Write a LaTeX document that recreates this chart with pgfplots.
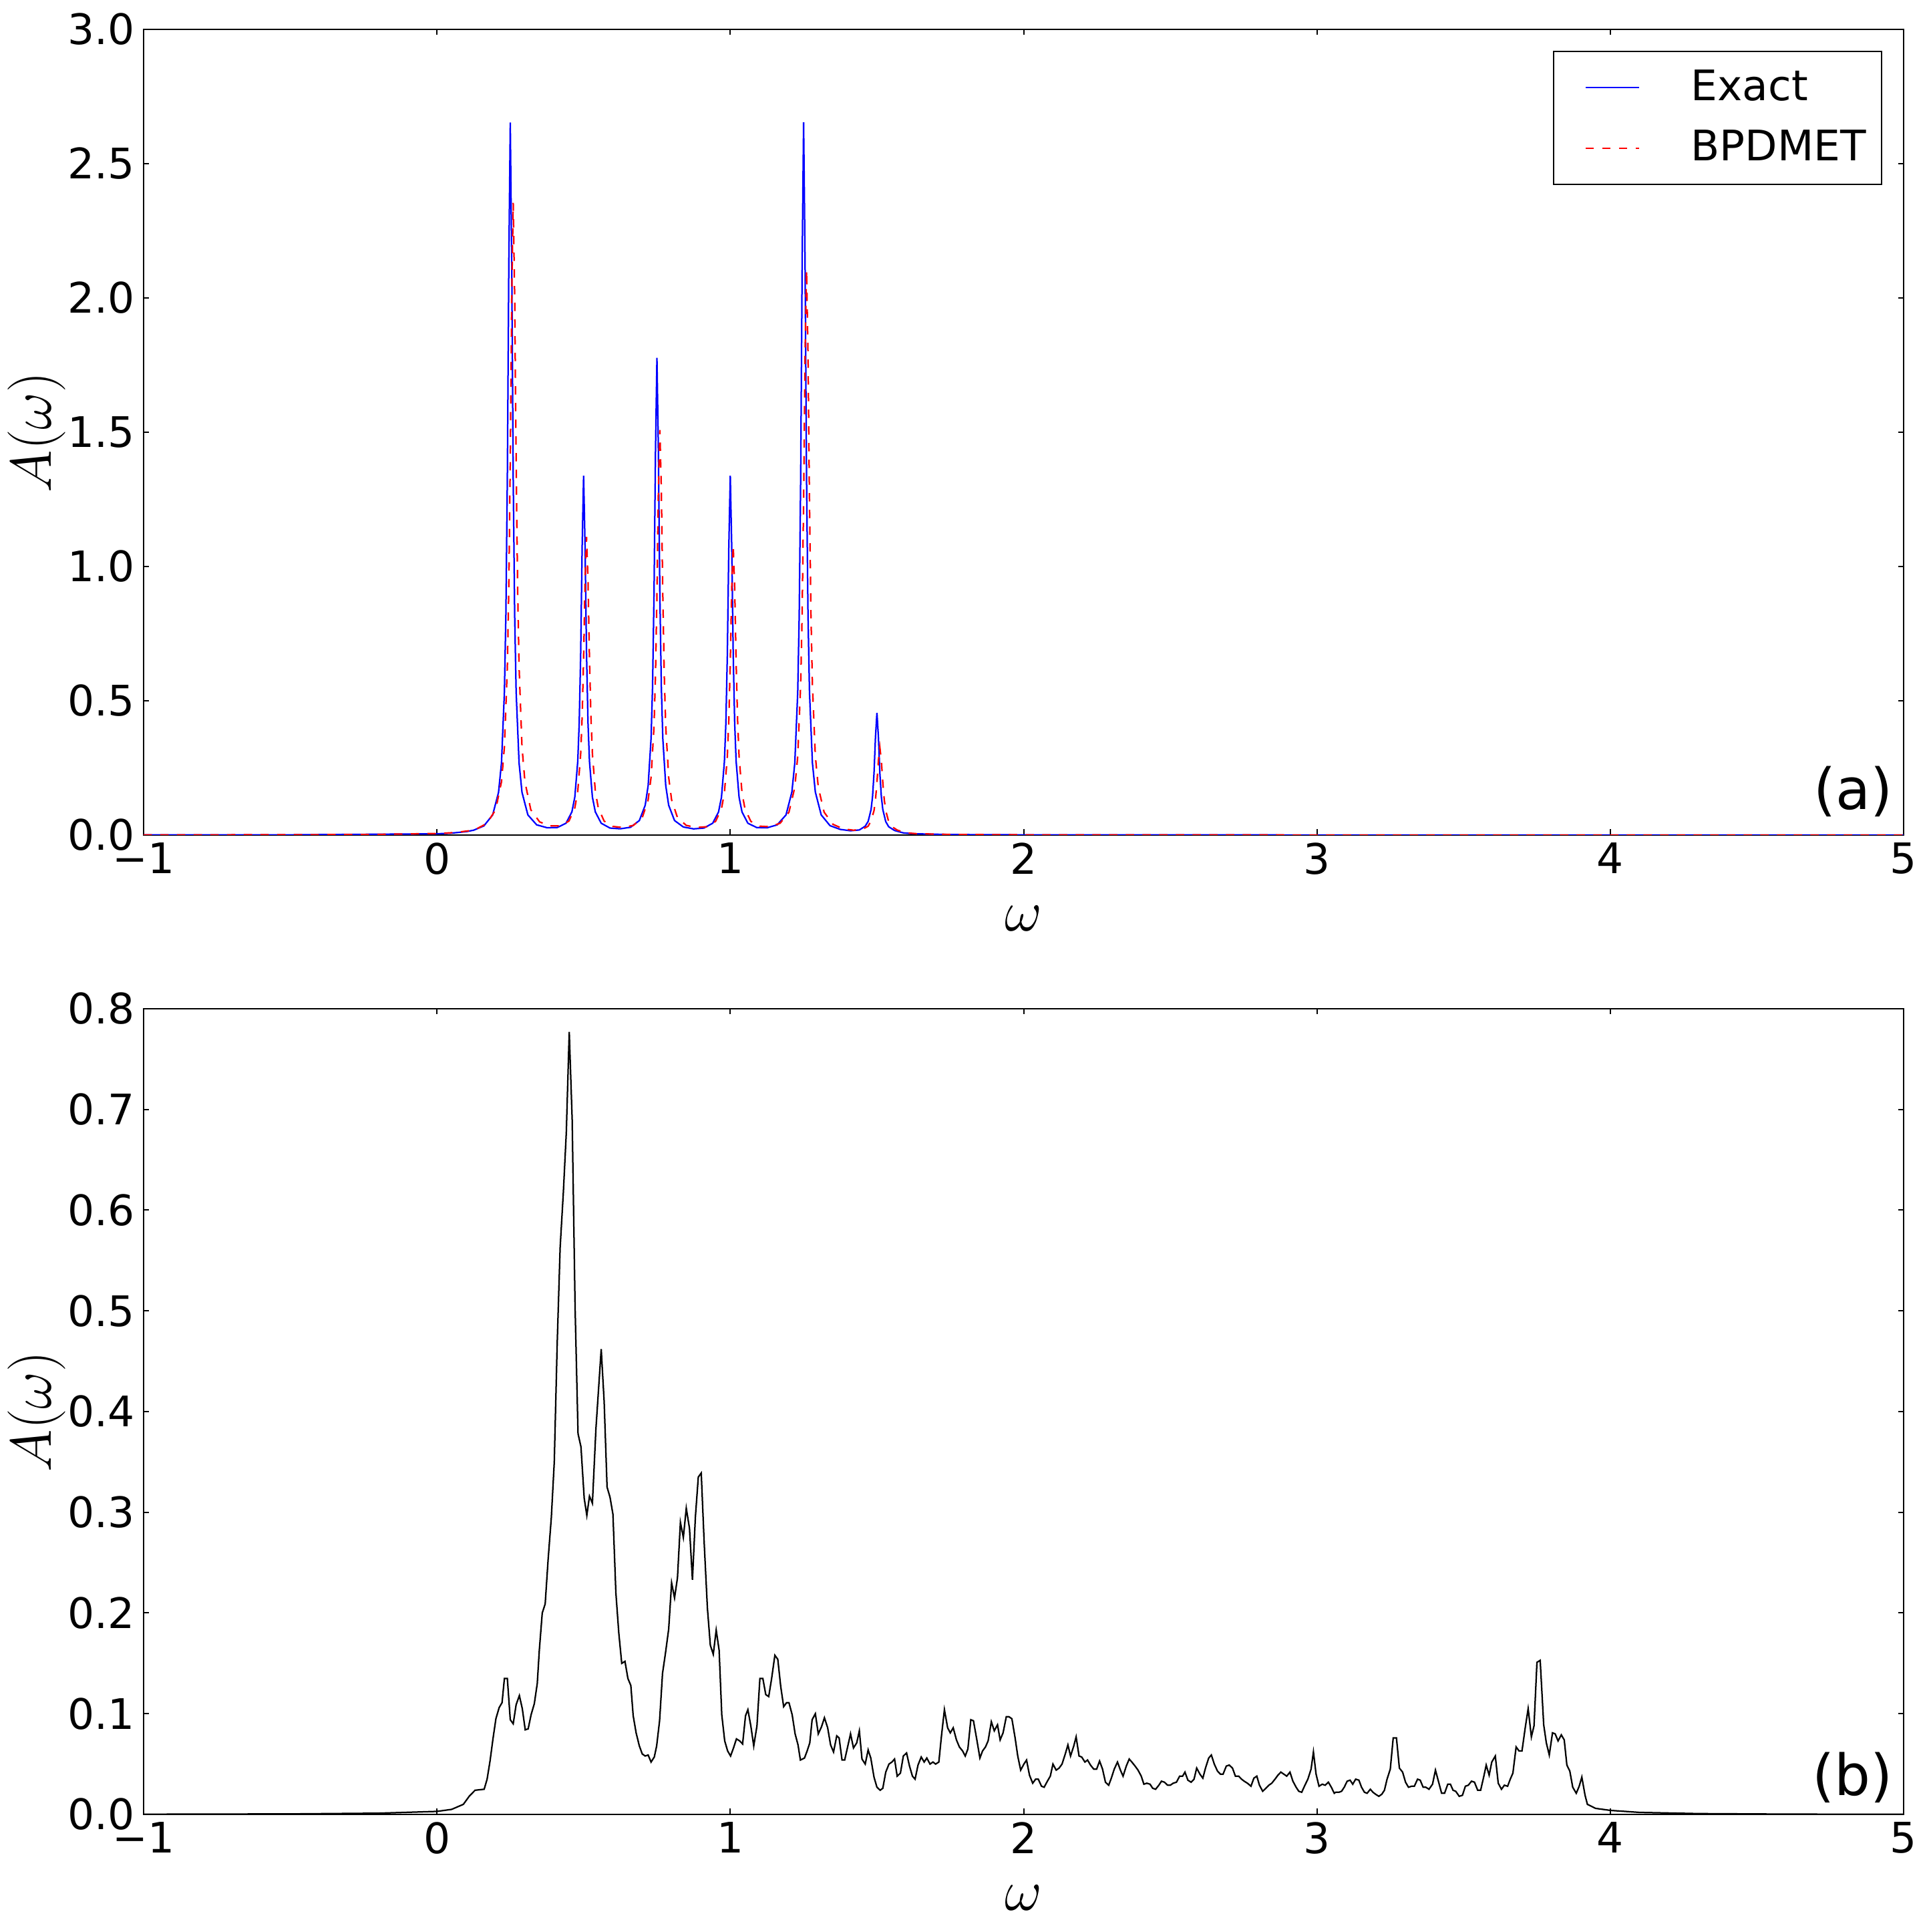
\documentclass[border=0pt]{standalone}
\usepackage{fontspec}
\setmainfont{DejaVu Sans}
\usepackage{pgfplots}
\pgfplotsset{compat=1.18}

\pgfplotstableread{
x y
-1 0.0003
-0.5 0.0008
0 0.0046
0.05 0.0072
0.1 0.0127
0.125 0.018
0.16 0.034
0.19 0.075
0.21 0.159
0.22 0.268
0.23 0.533
0.235 0.819
0.24 1.328
0.245 2.123
0.25 2.653
0.255 2.123
0.26 1.328
0.265 0.819
0.27 0.533
0.28 0.268
0.29 0.159
0.31 0.075
0.34 0.038
0.375 0.0274
0.41 0.028
0.44 0.044
0.46 0.086
0.47 0.141
0.48 0.274
0.485 0.417
0.49 0.673
0.495 1.072
0.5 1.338
0.505 1.072
0.51 0.673
0.515 0.417
0.52 0.274
0.53 0.141
0.54 0.086
0.56 0.044
0.59 0.026
0.625 0.0233
0.66 0.029
0.69 0.054
0.71 0.111
0.72 0.184
0.73 0.36
0.735 0.551
0.74 0.892
0.745 1.423
0.75 1.777
0.755 1.423
0.76 0.892
0.765 0.551
0.77 0.36
0.78 0.184
0.79 0.111
0.81 0.054
0.84 0.030
0.875 0.023
0.91 0.026
0.94 0.044
0.96 0.086
0.97 0.141
0.98 0.274
0.985 0.417
0.99 0.673
0.995 1.072
1.0 1.338
1.005 1.072
1.01 0.673
1.015 0.417
1.02 0.274
1.03 0.141
1.04 0.086
1.06 0.044
1.09 0.028
1.125 0.027
1.16 0.038
1.19 0.075
1.21 0.16
1.22 0.269
1.23 0.534
1.235 0.819
1.24 1.329
1.245 2.124
1.25 2.654
1.255 2.124
1.26 1.329
1.265 0.819
1.27 0.534
1.28 0.269
1.29 0.16
1.31 0.075
1.34 0.035
1.375 0.021
1.41 0.016
1.44 0.019
1.46 0.033
1.47 0.051
1.48 0.095
1.485 0.143
1.49 0.23
1.495 0.365
1.5 0.455
1.505 0.365
1.51 0.23
1.515 0.143
1.52 0.095
1.53 0.05
1.54 0.031
1.56 0.017
1.59 0.008
1.625 0.0048
1.75 0.0018
2.0 0.0007
3.0 0.0002
5.0 0.00005
}\exacttable

\pgfplotstableread{
x y
-1 0.0003
-0.24 0.0018
0.01 0.006
0.06 0.0092
0.11 0.016
0.135 0.023
0.17 0.043
0.2 0.094
0.22 0.198
0.23 0.328
0.24 0.627
0.245 0.921
0.25 1.391
0.255 2.006
0.26 2.354
0.265 2.006
0.27 1.391
0.275 0.921
0.28 0.627
0.29 0.328
0.30 0.198
0.32 0.094
0.35 0.049
0.385 0.034
0.42 0.034
0.45 0.052
0.47 0.101
0.48 0.162
0.49 0.302
0.495 0.439
0.5 0.659
0.505 0.947
0.51 1.11
0.515 0.947
0.52 0.659
0.525 0.439
0.53 0.302
0.54 0.162
0.55 0.101
0.57 0.052
0.60 0.032
0.635 0.028
0.67 0.036
0.70 0.065
0.72 0.131
0.73 0.215
0.74 0.405
0.745 0.593
0.75 0.893
0.755 1.286
0.76 1.508
0.765 1.286
0.77 0.893
0.775 0.593
0.78 0.405
0.79 0.215
0.80 0.131
0.82 0.065
0.85 0.036
0.885 0.028
0.92 0.031
0.95 0.051
0.97 0.098
0.98 0.157
0.99 0.293
0.995 0.427
1.0 0.641
1.005 0.921
1.01 1.08
1.015 0.921
1.02 0.641
1.025 0.427
1.03 0.293
1.04 0.157
1.05 0.098
1.07 0.051
1.10 0.033
1.135 0.031
1.17 0.044
1.20 0.085
1.22 0.178
1.23 0.294
1.24 0.561
1.245 0.823
1.25 1.243
1.255 1.793
1.26 2.104
1.265 1.793
1.27 1.243
1.275 0.823
1.28 0.561
1.29 0.294
1.30 0.178
1.32 0.085
1.35 0.040
1.385 0.023
1.42 0.018
1.45 0.021
1.47 0.033
1.48 0.053
1.49 0.091
1.495 0.131
1.5 0.195
1.505 0.278
1.51 0.326
1.515 0.278
1.52 0.195
1.525 0.131
1.53 0.091
1.54 0.05
1.55 0.032
1.57 0.018
1.60 0.0082
1.635 0.005
1.76 0.002
2.01 0.0008
3.0 0.0002
5.0 0.00005
}\bpdmettable

\pgfplotstableread{
x y
-1 0.0002
-0.5 0.0005
-0.2 0.0012
0 0.003
0.05 0.005
0.09 0.010
0.11 0.018
0.13 0.024
0.161 0.025
0.171 0.035
0.181 0.053
0.191 0.075
0.201 0.095
0.212 0.106
0.222 0.111
0.230 0.135
0.240 0.135
0.250 0.094
0.260 0.090
0.270 0.109
0.281 0.118
0.291 0.105
0.301 0.084
0.311 0.085
0.321 0.099
0.332 0.110
0.342 0.130
0.349 0.163
0.359 0.200
0.369 0.209
0.379 0.253
0.390 0.295
0.400 0.350
0.410 0.468
0.420 0.563
0.431 0.618
0.441 0.677
0.451 0.777
0.461 0.690
0.471 0.503
0.481 0.378
0.491 0.365
0.502 0.314
0.511 0.297
0.520 0.316
0.530 0.309
0.542 0.383
0.560 0.462
0.570 0.410
0.580 0.325
0.590 0.315
0.600 0.298
0.610 0.220
0.620 0.180
0.630 0.150
0.641 0.152
0.651 0.135
0.661 0.128
0.669 0.098
0.679 0.081
0.690 0.068
0.700 0.060
0.710 0.058
0.720 0.059
0.730 0.052
0.741 0.057
0.749 0.068
0.759 0.093
0.769 0.140
0.779 0.160
0.790 0.184
0.800 0.230
0.810 0.215
0.820 0.235
0.830 0.290
0.840 0.275
0.850 0.304
0.861 0.284
0.871 0.233
0.881 0.295
0.891 0.335
0.901 0.339
0.911 0.270
0.922 0.205
0.932 0.168
0.942 0.159
0.952 0.183
0.962 0.163
0.971 0.099
0.981 0.073
0.991 0.063
1.001 0.058
1.011 0.066
1.021 0.075
1.032 0.073
1.042 0.070
1.052 0.098
1.060 0.104
1.070 0.088
1.080 0.068
1.091 0.088
1.101 0.135
1.111 0.135
1.121 0.119
1.131 0.117
1.141 0.135
1.152 0.158
1.162 0.154
1.172 0.127
1.182 0.107
1.192 0.111
1.200 0.111
1.211 0.099
1.221 0.080
1.231 0.069
1.239 0.054
1.253 0.056
1.262 0.063
1.271 0.071
1.279 0.094
1.290 0.100
1.300 0.080
1.311 0.087
1.321 0.096
1.332 0.086
1.342 0.069
1.352 0.062
1.363 0.078
1.371 0.076
1.381 0.054
1.390 0.054
1.400 0.067
1.410 0.080
1.420 0.066
1.431 0.071
1.440 0.083
1.449 0.055
1.460 0.050
1.470 0.064
1.479 0.056
1.490 0.037
1.500 0.027
1.511 0.024
1.520 0.026
1.530 0.042
1.541 0.050
1.551 0.052
1.560 0.055
1.569 0.038
1.580 0.041
1.590 0.058
1.601 0.061
1.611 0.048
1.621 0.038
1.630 0.035
1.640 0.049
1.651 0.057
1.661 0.052
1.670 0.056
1.681 0.050
1.691 0.052
1.700 0.050
1.711 0.052
1.720 0.078
1.730 0.104
1.741 0.086
1.750 0.081
1.760 0.086
1.771 0.074
1.781 0.067
1.792 0.063
1.801 0.058
1.810 0.065
1.820 0.094
1.829 0.093
1.840 0.075
1.851 0.056
1.860 0.063
1.870 0.067
1.879 0.073
1.890 0.092
1.900 0.083
1.911 0.089
1.920 0.074
1.930 0.081
1.941 0.097
1.950 0.097
1.960 0.095
1.971 0.076
1.980 0.058
1.990 0.044
2.001 0.050
2.010 0.054
2.020 0.039
2.031 0.031
2.041 0.035
2.050 0.035
2.061 0.028
2.070 0.027
2.081 0.033
2.091 0.038
2.100 0.050
2.111 0.044
2.121 0.046
2.131 0.050
2.142 0.060
2.151 0.069
2.160 0.058
2.171 0.068
2.179 0.077
2.189 0.058
2.198 0.057
2.209 0.052
2.218 0.054
2.228 0.049
2.239 0.045
2.249 0.045
2.259 0.053
2.269 0.045
2.279 0.032
2.290 0.029
2.299 0.036
2.309 0.045
2.320 0.052
2.330 0.044
2.339 0.038
2.350 0.048
2.360 0.055
2.369 0.052
2.380 0.048
2.390 0.044
2.401 0.038
2.410 0.030
2.420 0.031
2.431 0.030
2.440 0.026
2.450 0.025
2.461 0.029
2.470 0.033
2.480 0.032
2.491 0.029
2.500 0.029
2.510 0.031
2.521 0.032
2.532 0.038
2.542 0.038
2.550 0.042
2.560 0.034
2.571 0.032
2.581 0.035
2.590 0.046
2.601 0.040
2.611 0.036
2.620 0.046
2.631 0.056
2.640 0.059
2.650 0.050
2.661 0.043
2.671 0.040
2.680 0.040
2.691 0.048
2.701 0.049
2.712 0.046
2.722 0.038
2.733 0.038
2.743 0.035
2.752 0.033
2.763 0.031
2.775 0.028
2.785 0.036
2.795 0.038
2.804 0.029
2.815 0.023
2.826 0.026
2.836 0.029
2.846 0.031
2.857 0.035
2.867 0.039
2.877 0.042
2.887 0.040
2.897 0.038
2.908 0.042
2.918 0.033
2.929 0.027
2.938 0.023
2.948 0.022
2.959 0.029
2.969 0.035
2.980 0.045
2.988 0.062
2.997 0.040
3.007 0.028
3.018 0.030
3.028 0.029
3.039 0.032
3.049 0.027
3.059 0.021
3.064 0.022
3.075 0.022
3.084 0.023
3.093 0.027
3.103 0.033
3.113 0.034
3.122 0.030
3.132 0.035
3.143 0.034
3.152 0.027
3.162 0.022
3.171 0.021
3.182 0.025
3.191 0.022
3.200 0.020
3.211 0.018
3.221 0.020
3.230 0.024
3.239 0.035
3.250 0.045
3.260 0.076
3.271 0.076
3.281 0.046
3.292 0.042
3.302 0.032
3.312 0.027
3.323 0.028
3.332 0.028
3.343 0.035
3.352 0.034
3.362 0.027
3.371 0.027
3.382 0.025
3.394 0.030
3.404 0.044
3.414 0.033
3.425 0.021
3.435 0.021
3.446 0.030
3.455 0.030
3.464 0.024
3.473 0.023
3.485 0.018
3.496 0.019
3.506 0.028
3.516 0.029
3.527 0.033
3.537 0.032
3.548 0.024
3.558 0.024
3.569 0.038
3.577 0.049
3.587 0.039
3.596 0.052
3.608 0.058
3.618 0.031
3.629 0.025
3.639 0.029
3.650 0.028
3.659 0.035
3.668 0.041
3.679 0.067
3.689 0.063
3.699 0.063
3.710 0.086
3.720 0.105
3.731 0.077
3.740 0.088
3.750 0.151
3.761 0.153
3.773 0.089
3.782 0.071
3.792 0.059
3.803 0.081
3.812 0.080
3.822 0.073
3.833 0.079
3.843 0.074
3.852 0.049
3.862 0.043
3.872 0.027
3.884 0.021
3.894 0.028
3.903 0.037
3.914 0.019
3.922 0.010
3.95 0.006
4.0 0.004
4.1 0.002
4.3 0.0008
4.6 0.0003
5.0 0.0001
}\spectable

\pgfplotsset{
  panel/.style={
    width=527pt, height=241.2pt, scale only axis,
    xmin=-1, xmax=5,
    xtick={-1,0,1,2,3,4,5},
    xticklabels={−1,0,1,2,3,4,5},
    tick align=inside,
    major tick length=1.7pt,
    axis line style={line width=0.4pt},
    every tick/.style={black, line width=0.4pt},
    tick label style={font=\fontsize{12.6}{14}\selectfont, inner sep=0pt},
    xticklabel style={yshift=-2.2pt},
    yticklabel style={xshift=-2.4pt},
    xlabel={$\omega$}, ylabel={$A(\omega)$},
    label style={font=\fontsize{17.6}{20}\selectfont, inner sep=0pt},
    xlabel style={at={(axis description cs:0.5,0)}, anchor=north, yshift=-21pt},
    ylabel style={at={([xshift=-27.6pt]axis description cs:0,0.5)}, anchor=base},
    clip=true,
  },
}

\begin{document}
\begin{tikzpicture}
\useasboundingbox (0,0) rectangle (576.8pt,578.4pt);

\begin{axis}[panel,
  at={(43pt,328.4pt)}, anchor=south west,
  ymin=0, ymax=3,
  ytick={0,0.5,1,1.5,2,2.5,3},
  yticklabels={0.0,0.5,1.0,1.5,2.0,2.5,3.0},
  legend cell align=left,
  legend image code/.code={\path (0pt,0pt); \draw[#1] (4.6pt,0pt) -- (20.6pt,0pt);},
  legend style={at={(axis description cs:1,1)}, anchor=north east,
    xshift=-6.4pt, yshift=-6.4pt, draw=black, line width=0.4pt,
    font=\fontsize{12.6}{14}\selectfont,
    inner xsep=4.6pt, inner ysep=5.5pt, row sep=7.4pt, column sep=15.4pt,
    nodes={inner sep=0pt}},
]
\addplot[blue, line width=0.45pt] table[x=x,y=y] {\exacttable};
\addlegendentry{Exact}
\addplot[red, line width=0.45pt, dash pattern=on 2.5pt off 2.5pt] table[x=x,y=y] {\bpdmettable};
\addlegendentry{BPDMET}
\node[anchor=base east, inner sep=0pt, font=\fontsize{17}{20}\selectfont] at ([xshift=-3pt,yshift=7.6pt]rel axis cs:1,0) {(a)};
\end{axis}

\begin{axis}[panel,
  at={(43pt,35.2pt)}, anchor=south west,
  ymin=0, ymax=0.8,
  ytick={0,0.1,0.2,0.3,0.4,0.5,0.6,0.7,0.8},
  yticklabels={0.0,0.1,0.2,0.3,0.4,0.5,0.6,0.7,0.8},
]
\addplot[black, line width=0.45pt] table[x=x,y=y] {\spectable};
\node[anchor=base east, inner sep=0pt, font=\fontsize{17}{20}\selectfont] at ([xshift=-3pt,yshift=5.6pt]rel axis cs:1,0) {(b)};
\end{axis}
\end{tikzpicture}
\end{document}
